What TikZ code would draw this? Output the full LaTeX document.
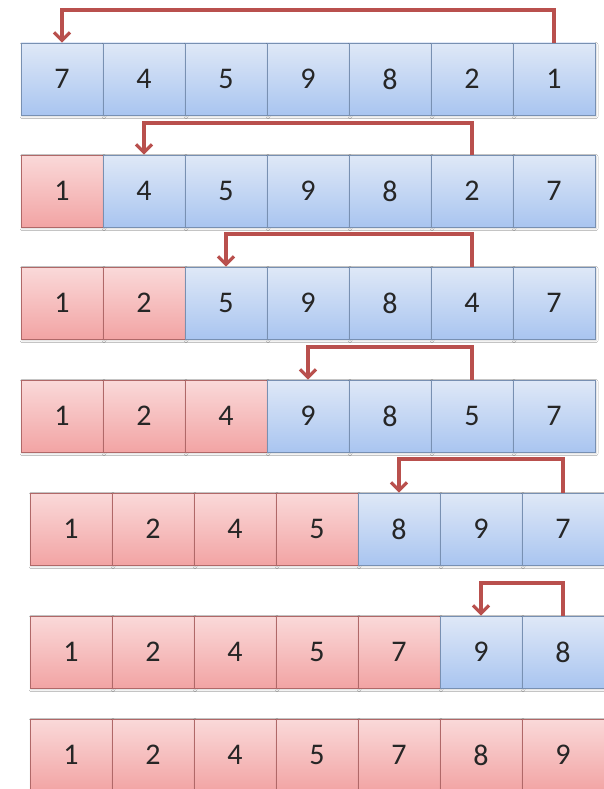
\documentclass[tikz,border=0pt]{standalone}
\usepackage{fontspec}
\setmainfont{Carlito}
\usetikzlibrary{arrows.meta, calc, shadows.blur}
\usepackage{xcolor}
\definecolor{bluetop}{HTML}{DFE8F7}
\definecolor{bluebot}{HTML}{A9C5F0}
\definecolor{blueline}{HTML}{7890B2}
\definecolor{redtop}{HTML}{FAD9D9}
\definecolor{redbot}{HTML}{F2A4A4}
\definecolor{redline}{HTML}{B06868}
\definecolor{arrowred}{HTML}{B9504D}
\definecolor{digit}{HTML}{262626}

\begin{document}
\begin{tikzpicture}[x=1pt, y=-1pt,
    cell/.style={draw, line width=0.8pt, minimum width=82pt, minimum height=72pt, inner sep=0pt, font=\fontsize{30}{34}\selectfont, text=digit, blur shadow={shadow xshift=1pt, shadow yshift=-1.5pt, shadow blur radius=2pt, shadow opacity=20}},
    unsorted/.style={top color=bluetop, bottom color=bluebot, draw=blueline},
    sorted/.style={top color=redtop, bottom color=redbot, draw=redline},
    swap/.style={draw=arrowred, line width=3.2pt, -{Straight Barb[length=8pt, width=16pt]}}
  ]
    \path[use as bounding box, fill=white] (0,0) rectangle (604,789);

    \foreach \r/\y/\xl/\k/\vals in {1/43/21/0/{7,4,5,9,8,2,1}, 2/155/21/1/{1,4,5,9,8,2,7}, 3/267/21/2/{1,2,5,9,8,4,7}, 4/380/21/3/{1,2,4,9,8,5,7}, 5/493/30/4/{1,2,4,5,8,9,7}, 6/616/30/5/{1,2,4,5,7,9,8}, 7/719/30/7/{1,2,4,5,7,8,9}} {
      \foreach \v [count=\col] in \vals {
        \ifnum\col>\k \def\sty{unsorted}\else\def\sty{sorted}\fi
        \node[cell, style/.expand once=\sty] (r\r-\col) at ({\xl+82*\col-41}, \y+36) {\v};
      }
    }

    \foreach \r/\s/\t/\h in {1/7/1/10, 2/6/2/123, 3/6/3/234, 4/6/4/347, 5/7/5/459, 6/7/6/583} {
      \coordinate (top\r) at (0,\h);
      \draw[swap] (r\r-\s.north) -- (r\r-\s.north |- top\r) -| (r\r-\t.north);
    }
  \end{tikzpicture}
\end{document}
